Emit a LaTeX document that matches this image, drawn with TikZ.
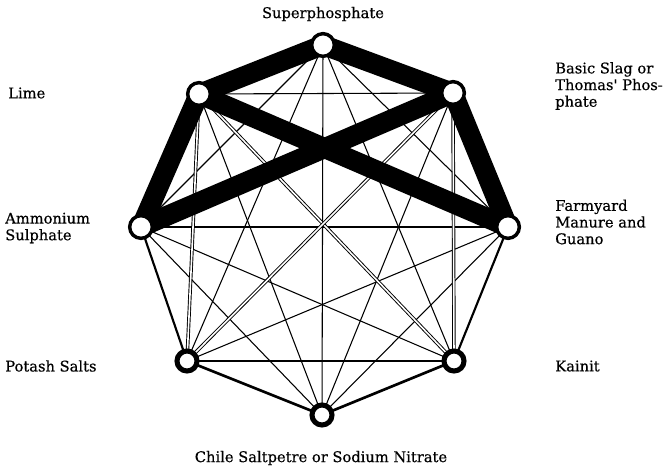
\documentclass[tikz,border=0pt]{standalone}
\usepackage{fontspec}
\setmainfont{DejaVu Serif}
\newfontfamily\lblfont{DejaVu Serif}[FakeBold=0.5]
\usetikzlibrary{backgrounds}
\begin{document}
\begin{tikzpicture}[x=0.75pt,y=-0.75pt,
  thinedge/.style={line width=0.8pt},
  mededge/.style={line width=1.6pt},
  dbledge/.style={line width=0.7pt, double=white, double distance=1.2pt},
  bar/.style={line width=15pt, line cap=round},
  topnode/.style={circle, fill=white, draw=black, line width=2.6pt, minimum size=17pt, inner sep=0pt},
  lownode/.style={circle, fill=white, draw=black, line width=3.8pt, minimum size=15pt, inner sep=0pt},
  lbl/.style={font=\lblfont\fontsize{11}{12.5}\selectfont, inner sep=0pt, align=left}]
\useasboundingbox (0,0) rectangle (666,470);
% nodes
\node[topnode] (S) at (323,45) {};
\node[topnode] (L) at (199,94) {};
\node[topnode] (B) at (453,93) {};
\node[topnode] (A) at (141,227) {};
\node[topnode] (F) at (508,227) {};
\node[lownode] (P) at (187,361) {};
\node[lownode] (K) at (454,361) {};
\node[lownode] (C) at (322,415) {};
% edges
\begin{scope}[on background layer]
  \foreach \a/\b in {S/A,S/F,S/P,S/K,S/C,L/B,L/C,B/C,A/F,A/K,A/C,F/P,F/C,P/K}
    \draw[thinedge] (\a.center) -- (\b.center);
  \foreach \a/\b in {A/P,F/K}
    \draw[mededge] (\a.center) -- (\b.center);
  \foreach \a/\b in {P/C,C/K}
    \draw[mededge, line width=2pt] (\a.center) -- (\b.center);
  \foreach \a/\b in {L/P,L/K,B/P,B/K}
    \draw[dbledge] (\a.center) -- (\b.center);
  \foreach \a/\b in {S/L,S/B,L/F,B/A,L/A,B/F}
    \draw[bar] (\a.center) -- (\b.center);
\end{scope}
% labels
\node[lbl] (tS) at (323,14) {Superphosphate};
\node[lbl, anchor=west] (tL) at (8,93) {Lime};
\node[lbl, anchor=west] (tB) at (555,86) {Basic Slag or\\Thomas' Phos-\\phate};
\node[lbl, anchor=west] (tA) at (5,228) {Ammonium\\Sulphate};
\node[lbl, anchor=west] (tF) at (555,222) {Farmyard\\Manure and\\Guano};
\node[lbl, anchor=west] (tP) at (5,366) {Potash Salts};
\node[lbl, anchor=west] (tK) at (555,366) {Kainit};
\node[lbl] (tC) at (321,458) {Chile Saltpetre or Sodium Nitrate};
\end{tikzpicture}
\end{document}
